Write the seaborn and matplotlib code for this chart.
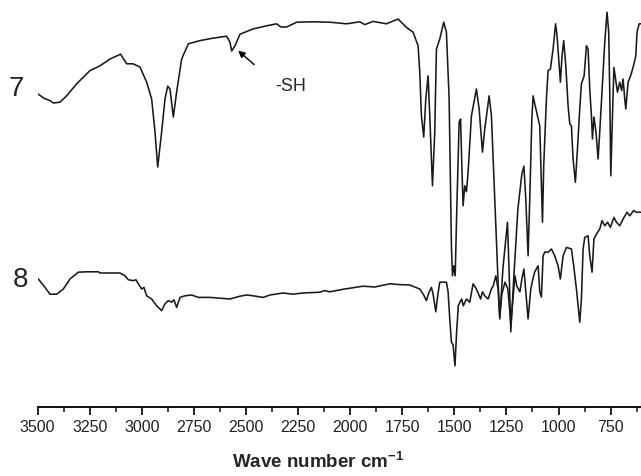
import numpy as np
import pandas as pd
import matplotlib
matplotlib.use("Agg")
import matplotlib.pyplot as plt
from matplotlib.ticker import MultipleLocator
import seaborn as sns

# ---- data (wavenumber cm-1, relative transmittance) ----
wn7 = [3497, 3470, 3441, 3425, 3393, 3361, 3313, 3249, 3201, 3153, 3102, 3073, 3043, 3009,
       2977, 2953, 2937, 2924, 2905, 2889, 2876, 2865, 2849, 2833, 2809, 2777, 2721, 2659,
       2593, 2577, 2569, 2553, 2529, 2467, 2401, 2353, 2333, 2305, 2257, 2179, 2098, 2017,
       1954, 1930, 1890, 1826, 1770, 1730, 1698, 1674, 1666, 1658, 1647, 1637, 1626, 1618,
       1605, 1594, 1586, 1570, 1551, 1538, 1525, 1514, 1509, 1503, 1496, 1487, 1477, 1470,
       1464, 1458, 1450, 1442, 1434, 1418, 1394, 1381, 1365, 1354, 1333, 1322, 1306, 1290,
       1282, 1267, 1245, 1236, 1229, 1215, 1195, 1176, 1166, 1157, 1146, 1138, 1128, 1122,
       1114, 1090, 1077, 1071, 1058, 1050, 1039, 1026, 1014, 1007, 997, 991, 983, 975, 965,
       954, 946, 938, 930, 919, 909, 898, 890, 877, 866, 858, 850, 842, 837, 830, 820, 810,
       802, 789, 778, 767, 759, 754, 749, 741, 734, 724, 717, 706, 697, 690, 682, 677, 666,
       654, 642, 629, 623, 613, 605]
t7 = [76.2, 75.2, 74.6, 74.0, 74.2, 75.8, 78.8, 82.1, 83.3, 85.0, 86.2, 83.8, 83.8, 83.0,
      79.2, 75.0, 66.8, 58.0, 66.8, 75.0, 78.2, 77.5, 70.5, 76.8, 85.0, 88.8, 89.6, 90.2,
      90.7, 89.2, 87.0, 88.3, 91.2, 92.5, 93.3, 93.8, 93.0, 93.0, 94.2, 94.3, 94.2, 93.8,
      94.3, 93.6, 94.4, 93.8, 95.0, 92.9, 91.7, 88.3, 81.8, 70.8, 65.5, 75.0, 80.8, 70.8,
      53.3, 66.8, 87.5, 90.0, 94.2, 91.7, 75.0, 38.3, 30.8, 33.3, 30.8, 50.0, 69.2, 70.0,
      58.3, 48.3, 53.3, 51.8, 56.7, 70.8, 77.5, 72.5, 61.7, 67.5, 75.8, 70.8, 50.0, 29.2,
      20.0, 32.5, 44.2, 30.0, 16.8, 30.0, 47.5, 56.2, 58.2, 50.0, 35.8, 50.0, 70.0, 75.8,
      73.8, 68.3, 44.2, 58.3, 75.0, 82.1, 82.5, 87.5, 93.8, 90.8, 83.3, 79.2, 85.8, 89.6, 83.3,
      73.3, 68.8, 68.3, 60.0, 54.2, 62.5, 72.5, 78.8, 80.8, 88.3, 87.5, 77.5, 70.8, 65.0, 70.5, 66.8, 60.0,
      66.8, 79.2, 89.2, 96.7, 91.7, 76.7, 55.8, 70.8, 82.9, 79.2, 76.7, 79.2, 77.1, 80.0, 75.0, 72.5, 79.2,
      80.8, 82.9, 85.8, 91.7, 93.8, 93.8]

wn8 = [3497, 3465, 3441, 3409, 3377, 3345, 3305, 3265, 3209, 3201, 3105, 3081, 3065, 3041,
       3028, 3017, 3001, 2990, 2977, 2953, 2929, 2913, 2905, 2889, 2873, 2857, 2846, 2833,
       2817, 2793, 2761, 2729, 2673, 2625, 2577, 2529, 2497, 2466, 2418, 2385, 2322, 2274,
       2226, 2146, 2122, 2098, 2026, 1938, 1882, 1810, 1762, 1714, 1690, 1666, 1647, 1634,
       1623, 1610, 1602, 1589, 1579, 1570, 1538, 1530, 1522, 1514, 1506, 1497, 1489, 1481,
       1473, 1465, 1457, 1442, 1426, 1410, 1394, 1374, 1365, 1354, 1338, 1322, 1313, 1301,
       1290, 1282, 1272, 1257, 1243, 1229, 1209, 1200, 1185, 1176, 1166, 1157, 1146, 1133,
       1123, 1114, 1098, 1090, 1082, 1074, 1066, 1050, 1034, 1018, 1002, 991, 978, 962, 938,
       927, 914, 906, 898, 890, 882, 874, 858, 850, 839, 830, 818, 802, 791, 778, 764, 751,
       734, 722, 706, 690, 671, 658, 639, 626, 605]
t8 = [30.0, 27.9, 26.2, 26.2, 27.5, 30.0, 31.7, 31.8, 31.8, 31.5, 31.5, 30.8, 29.8, 29.6,
      29.8, 28.8, 27.5, 27.9, 25.8, 25.0, 23.3, 22.5, 22.1, 23.8, 24.6, 24.2, 24.8, 22.9,
      25.4, 25.8, 26.0, 25.4, 25.4, 25.2, 25.0, 25.7, 26.0, 25.8, 25.4, 26.0, 26.5, 26.2,
      26.5, 26.7, 27.1, 26.8, 27.5, 28.2, 28.0, 28.8, 28.6, 28.5, 28.0, 27.5, 26.0, 24.6,
      26.5, 27.9, 26.2, 21.8, 26.2, 29.2, 29.2, 26.8, 20.0, 14.2, 13.5, 8.3, 16.8, 23.3,
      24.2, 25.0, 23.3, 25.0, 24.2, 28.8, 27.5, 25.0, 26.8, 25.8, 25.0, 27.5, 28.3, 30.8,
      27.5, 20.5, 26.2, 29.2, 27.5, 18.8, 30.8, 28.2, 26.8, 30.0, 32.5, 26.8, 20.0, 27.5,
      30.0, 31.8, 33.3, 26.8, 25.5, 35.8, 36.7, 36.7, 37.5, 35.8, 33.3, 30.0, 35.8, 37.9, 37.5,
      33.3, 27.5, 23.3, 19.2, 25.0, 37.5, 40.4, 40.8, 35.8, 31.7, 40.0, 41.2, 42.5, 44.6, 43.3, 44.2, 42.9,
      45.4, 44.2, 43.3, 45.0, 46.7, 45.8, 47.1, 46.7, 46.7]

sample_labels = ["7", "8"]
x_ticks = [3500, 3250, 3000, 2750, 2500, 2250, 2000, 1750, 1500, 1250, 1000, 750]
sh_peak = (2538, 87.1)      # arrow tip at the -SH band
sh_tail = (2461, 83.6)
sh_text = (2285, 78.3)

df7 = pd.DataFrame({"wn": wn7, "T": t7, "s": "7"})
df8 = pd.DataFrame({"wn": wn8, "T": t8, "s": "8"})

sns.set_style("white")
plt.rcParams["font.family"] = ["Liberation Sans", "DejaVu Sans"]
plt.rcParams["mathtext.fontset"] = "custom"
plt.rcParams["mathtext.rm"] = "Liberation Sans"
plt.rcParams["mathtext.bf"] = "Liberation Sans:bold"

fig = plt.figure(figsize=(6.41, 4.77), dpi=100)
ax = fig.add_axes([37.7 / 641, 69 / 477, 1 - 37.7 / 641, 408 / 477])

for d in (df7, df8):
    sns.lineplot(data=d, x="wn", y="T", ax=ax, color="#1a1a1a", linewidth=1.15,
                 estimator=None, sort=False, legend=False)

ax.set_xlim(3500, 604)
ax.set_ylim(-2, 100)
ax.set_xticks(x_ticks)
ax.set_xticklabels([str(v) for v in x_ticks])
ax.xaxis.set_minor_locator(MultipleLocator(125))
ax.tick_params(axis="x", which="both", bottom=True, top=False)
ax.tick_params(axis="x", which="major", direction="out", length=6, width=1.2,
               pad=3, labelsize=11.5, colors="#000000", labelcolor="#222222")
ax.tick_params(axis="x", which="minor", direction="out", length=3.6, width=1.2)
ax.set_yticks([])
ax.set_xlabel("")
ax.set_ylabel("")
for s in ("left", "right", "top"):
    ax.spines[s].set_visible(False)
ax.spines["bottom"].set_linewidth(1.3)
ax.spines["bottom"].set_color("black")

ax.annotate("", xy=sh_peak, xytext=sh_tail,
            arrowprops=dict(arrowstyle="-|>", color="black", lw=1.0,
                            mutation_scale=10, shrinkA=0, shrinkB=0))
ax.text(sh_text[0], sh_text[1], "-SH", fontsize=13, ha="center", va="center")

fig.text(16.7 / 641, 1 - 89 / 477, sample_labels[0], fontsize=20, ha="center", va="center")
fig.text(20 / 641, 1 - 280 / 477, sample_labels[1], fontsize=20, ha="center", va="center")

fig.text(318 / 641, 1 - 462 / 477, r"Wave number cm$^{\mathregular{-1}}$",
         fontsize=13.5, fontweight="bold", ha="center", va="center")

fig.savefig("out.png", dpi=100)
